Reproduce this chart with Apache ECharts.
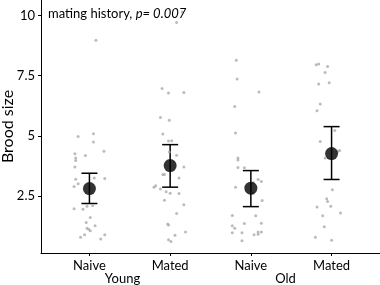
<!DOCTYPE html>
<html>
<head>
<meta charset="utf-8">
<script src="https://cdn.jsdelivr.net/npm/echarts@6/dist/echarts.min.js"></script>
<style>
  html, body { margin: 0; padding: 0; background: #fff; }
  #chart { width: 380px; height: 285px; }
</style>
</head>
<body>
<div id="chart"></div>
<script>
// groups on the x axis (1..4)
var treatments = ['Naive', 'Mated', 'Naive', 'Mated'];
var ageGroups = ['Young', 'Old'];
var agePos = [1.41, 3.43];
var yTicks = [2.5, 5, 7.5, 10];

// raw brood sizes, [jittered x, value]
var youngNaive = [
  [0.86, 4.97], [1.05, 5.08], [1.05, 4.74], [1.18, 4.36], [0.82, 4.25], [0.95, 4.18],
  [0.83, 4.07], [0.83, 3.97], [0.82, 3.70], [1.06, 3.24], [1.19, 3.22], [0.83, 3.19],
  [0.86, 3.00], [0.81, 2.89], [1.04, 2.10], [0.97, 2.07], [0.92, 1.94], [0.81, 1.96],
  [1.01, 1.60], [0.96, 1.39], [1.07, 1.25], [0.97, 1.15], [0.99, 1.11], [1.01, 1.05],
  [0.94, 0.88], [0.89, 0.78], [1.19, 0.88], [1.14, 0.70], [1.08, 8.97]
];
var youngMated = [
  [2.15, 10.15], [2.08, 9.71], [1.90, 6.97], [1.98, 6.78], [2.17, 6.80], [1.88, 5.76],
  [1.99, 5.64], [1.91, 5.07], [1.98, 4.78], [2.02, 4.79], [1.99, 4.32], [2.08, 4.19],
  [2.17, 3.70], [1.91, 3.39], [1.93, 3.39], [2.11, 3.24], [1.80, 2.86], [1.82, 2.92],
  [1.88, 2.78], [1.95, 2.67], [2.00, 2.61], [2.11, 2.60], [1.93, 2.32], [2.17, 2.13],
  [2.08, 1.76], [1.97, 1.33], [1.98, 1.29], [2.19, 0.99], [2.06, 0.86], [1.98, 0.67],
  [2.01, 0.60]
];
var oldNaive = [
  [2.82, 8.14], [2.83, 7.36], [3.10, 6.82], [2.80, 6.22], [2.81, 5.11], [2.84, 4.07],
  [2.84, 3.99], [2.84, 3.68], [2.92, 3.67], [3.03, 3.05], [3.09, 3.18], [3.13, 3.10],
  [2.81, 2.86], [3.03, 2.61], [3.14, 2.30], [2.77, 1.68], [3.06, 1.67], [2.92, 1.35],
  [3.13, 1.36], [2.77, 1.25], [2.80, 1.15], [2.77, 0.96], [2.89, 0.96], [3.04, 0.88],
  [3.09, 0.99], [3.09, 0.90], [3.13, 0.99], [2.89, 0.63]
];
var oldMated = [
  [3.81, 7.96], [3.84, 7.99], [3.95, 7.88], [3.92, 7.63], [3.84, 7.15], [3.97, 7.21],
  [3.86, 6.32], [3.82, 6.04], [4.04, 5.22], [3.86, 4.76], [4.08, 4.35], [4.10, 4.39],
  [3.92, 4.07], [4.01, 2.75], [3.94, 2.38], [3.95, 2.26], [3.99, 2.07], [3.82, 2.03],
  [4.11, 1.79], [3.89, 1.67], [3.91, 1.21], [3.80, 0.78], [4.00, 0.65]
];

// model means and 95% CI
var means = [2.80, 3.76, 2.82, 4.26];
var lower = [2.18, 2.86, 2.05, 3.18];
var upper = [3.44, 4.63, 3.55, 5.38];

var font = 'Lato, "Open Sans", sans-serif';
var chart = echarts.init(document.getElementById('chart'));

var raw = youngNaive.concat(youngMated, oldNaive, oldMated);
var ci = means.map(function (m, i) { return [i + 1, lower[i], upper[i]]; });
var meanPts = means.map(function (m, i) { return [i + 1, m]; });

var option = {
  animation: false,
  title: {
    text: 'mating history, {i|p= 0.007}',
    left: 43, top: 2,
    textStyle: {
      fontFamily: font, fontSize: 13, fontWeight: 'normal', color: '#000',
      rich: { i: { fontFamily: font, fontSize: 13, fontStyle: 'italic', color: '#000' } }
    }
  },
  grid: { left: 41, right: 0, top: 0, bottom: 32, outerBoundsMode: 'none' },
  xAxis: [{
    type: 'value', min: 0.4, max: 4.6,
    splitLine: { show: false },
    axisLine: { lineStyle: { color: '#000', width: 1 } },
    axisTick: { customValues: [1, 2, 3, 4], length: 3, lineStyle: { color: '#000' } },
    axisLabel: {
      customValues: [1, 2, 3, 4], margin: 6,
      fontFamily: font, fontSize: 13, color: '#000',
      formatter: function (v) { return treatments[Math.round(v) - 1]; }
    }
  }, {
    type: 'value', min: 0.4, max: 4.6, position: 'bottom', offset: 13,
    splitLine: { show: false }, axisLine: { show: false },
    axisTick: { show: false },
    axisLabel: {
      customValues: agePos, margin: 6,
      fontFamily: font, fontSize: 13, color: '#000',
      formatter: function (v) { return ageGroups[agePos.indexOf(v)]; }
    }
  }],
  yAxis: {
    type: 'value', min: 0.12, max: 10.65,
    name: 'Brood size', nameLocation: 'middle', nameGap: 25, nameMoveOverlap: false,
    nameTextStyle: { fontFamily: font, fontSize: 16, color: '#000' },
    splitLine: { show: false },
    axisLine: { show: true, lineStyle: { color: '#000', width: 1 } },
    axisTick: { show: true, customValues: yTicks, length: 3, lineStyle: { color: '#000' } },
    axisLabel: {
      customValues: yTicks, margin: 6,
      fontFamily: font, fontSize: 13, color: '#000'
    }
  },
  series: [{
    type: 'scatter', data: raw, symbolSize: 3,
    itemStyle: { color: '#aaaaaa' }, silent: true
  }, {
    type: 'custom', data: ci,
    renderItem: function (params, api) {
      var x = api.value(0);
      var lo = api.coord([x, api.value(1)]);
      var hi = api.coord([x, api.value(2)]);
      var hw = 8;
      var st = { stroke: '#000', lineWidth: 1.5 };
      return {
        type: 'group',
        children: [
          { type: 'line', shape: { x1: lo[0], y1: lo[1], x2: hi[0], y2: hi[1] }, style: st },
          { type: 'line', shape: { x1: lo[0] - hw, y1: lo[1], x2: lo[0] + hw, y2: lo[1] }, style: st },
          { type: 'line', shape: { x1: hi[0] - hw, y1: hi[1], x2: hi[0] + hw, y2: hi[1] }, style: st }
        ]
      };
    }
  }, {
    type: 'scatter', data: meanPts, symbolSize: 13,
    itemStyle: { color: '#000' }, z: 5
  }]
};

chart.setOption(option);
</script>
</body>
</html>
